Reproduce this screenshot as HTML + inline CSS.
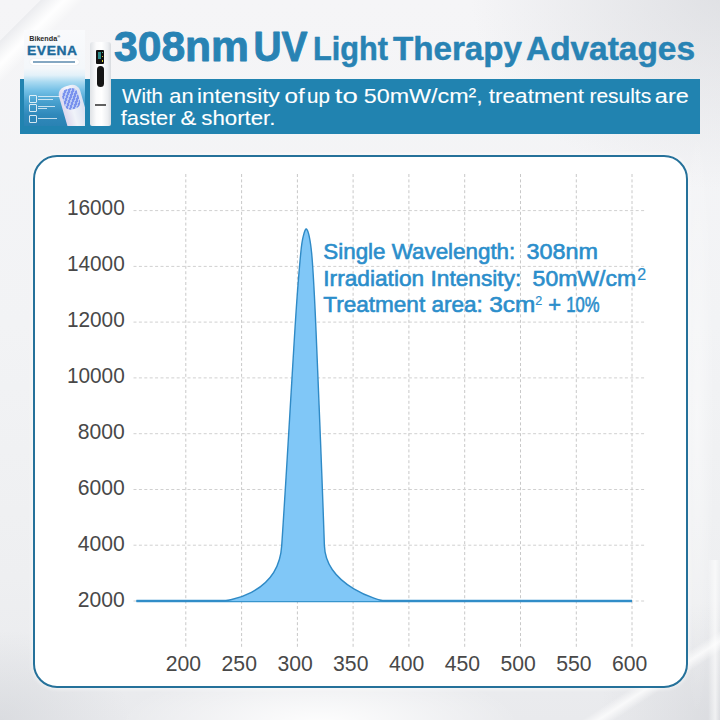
<!DOCTYPE html>
<html><head><meta charset="utf-8">
<style>
html,body{margin:0;padding:0;}
body{width:720px;height:720px;overflow:hidden;position:relative;font-family:"Liberation Sans",sans-serif;
background:radial-gradient(ellipse 200px 60px at 320px 725px,rgba(255,255,255,.95),rgba(255,255,255,0)),radial-gradient(ellipse 260px 200px at 730px -10px,rgba(205,207,212,.55),rgba(205,207,212,0)),radial-gradient(ellipse 120px 120px at 720px 720px,rgba(200,202,207,.45),rgba(200,202,207,0)),radial-gradient(ellipse 130px 90px at 0px 720px,rgba(200,203,208,.45),rgba(200,203,208,0)),linear-gradient(180deg,#f5f5f7 0%,#f2f3f5 45%,#eeeff1 80%,#e9eaed 100%);}
.abs{position:absolute;white-space:nowrap;}
.st{position:absolute;}
#shine1{left:-45px;top:12px;width:160px;height:30px;transform:rotate(-45deg);background:linear-gradient(180deg,rgba(225,227,231,.5),rgba(255,255,255,.95) 55%,rgba(255,255,255,0));}
#banner{left:20px;top:79px;width:680px;height:54.5px;background:#2183b0;}
#card{left:33.2px;top:154.8px;width:651px;height:529.5px;border:2.2px solid #25719a;border-radius:24px;background:#fff;box-shadow:0 0 4px 1px rgba(255,255,255,.6);}
#box{left:24px;top:29.5px;width:60.6px;height:96.8px;overflow:hidden;background:linear-gradient(180deg,#f9fafc 0%,#f4f7fa 40%,#e3f1f9 47%,#aadaf1 54%,#74c0e6 63%,#4aa2d0 74%,#3089bb 88%,#2a82b3 100%);}
#bk{left:5.2px;top:5.3px;font-size:7.2px;font-weight:bold;color:#2a2a2a;line-height:8px;}
#bk sup{font-size:4px;vertical-align:top;line-height:4px;}
#ev{left:3.2px;top:15.5px;font-size:12.4px;font-weight:bold;color:#1d6b9c;letter-spacing:0.5px;line-height:12px;transform-origin:0 0;transform:scaleX(1.12);-webkit-text-stroke:0.35px #1d6b9c;}
#pill{left:5.5px;top:29px;width:49.5px;height:6px;border-radius:3px;background:#fff;box-shadow:0 0 1px rgba(0,0,0,.15);}
#pill span{position:absolute;left:3.5px;top:2px;width:42px;height:2px;background:#1f5f8f;opacity:.55;}
#head{left:38.5px;top:55px;width:22px;height:48px;transform:rotate(-16deg);border-radius:8px 8px 3px 3px;background:linear-gradient(90deg,#e6dcf0,#fbf9fd 45%,#e2e4f3);opacity:.95;}
#glow{position:absolute;left:2.5px;top:2.5px;width:16px;height:21px;border-radius:6px;background:repeating-linear-gradient(125deg,#6f86ee 0 2px,#b9c6f7 2px 3.5px);opacity:.9;}
.ic{left:5px;width:6px;height:6px;border:1px solid rgba(255,255,255,.8);border-radius:1px;}
.ln{left:14px;height:1px;background:rgba(255,255,255,.7);}
#dev{left:90px;top:41.8px;width:20.6px;height:84.4px;border-radius:3px 3px 2px 2px;background:linear-gradient(90deg,#dfe2e6,#fbfbfc 30%,#ffffff 55%,#eceef1 85%,#d8dbdf);}
#scr{left:6px;top:8.4px;width:8.4px;height:13.8px;background:#111;border-radius:1px;}
#scr i{position:absolute;width:2px;height:2px;}
#btn{left:6.8px;top:24.3px;width:7px;height:20.5px;background:#151515;border-radius:3.5px;}
#lbl{left:5px;top:62px;width:11px;height:2px;background:#3a3a3a;opacity:.8;}
svg{position:absolute;left:0;top:0;}

</style></head><body>
<div class="abs" id="shine1"></div>
<div class="st" style="left:500px;top:684px;width:280px;height:18px;transform:rotate(-33deg);background:linear-gradient(180deg,rgba(255,255,255,0),rgba(255,255,255,.75) 50%,rgba(255,255,255,0));"></div>
<div class="st" style="left:708px;top:560px;width:12px;height:160px;background:linear-gradient(90deg,rgba(255,255,255,0),rgba(255,255,255,.6) 60%,rgba(255,255,255,0));"></div>
<div class="st" style="left:680px;top:120px;width:34px;height:600px;background:radial-gradient(ellipse 50% 50% at 50% 50%,rgba(255,255,255,.45),rgba(255,255,255,0));"></div>
<div class="abs" id="banner"></div>
<div class="abs" id="box">
  <div class="abs" id="bk">Bikenda<sup>®</sup></div>
  <div class="abs" id="ev">EVENA</div>
  <div class="abs" id="pill"><span></span></div>
  <div class="abs" id="head"><div id="glow"></div></div>
  <div class="abs ic" style="top:65px"></div>
  <div class="abs ic" style="top:74.5px"></div>
  <div class="abs ic" style="top:85px"></div>
  <div class="abs ln" style="top:66.5px;width:22px"></div>
  <div class="abs ln" style="top:69px;width:15px"></div>
  <div class="abs ln" style="top:76px;width:17px"></div>
  <div class="abs ln" style="top:78.5px;width:9px"></div>
  <div class="abs ln" style="top:88px;width:19px"></div>
</div>
<div class="abs" id="dev">
  <div class="abs" id="scr"><i style="left:1.5px;top:2px;width:3px;height:7px;background:#2a8a8a"></i><i style="left:5.5px;top:2px;width:1.2px;height:1.2px;background:#50c0a0"></i><i style="left:5.5px;top:6px;width:1.2px;height:1.2px;background:#c8c040"></i><i style="left:5.5px;top:10px;width:1.5px;height:1.5px;background:#d8d030"></i></div>
  <div class="abs" id="btn"></div>
  <div class="abs" id="lbl"></div>
</div>
<div class="abs" id="card"></div>

<svg width="720" height="720" viewBox="0 0 720 720">
<g stroke-width="1" stroke-dasharray="3 2.4" fill="none">
<line x1="185.8" y1="174" x2="185.8" y2="647" stroke="#c8c8c8"/>
<line x1="241.6" y1="174" x2="241.6" y2="647" stroke="#c8c8c8"/>
<line x1="297.4" y1="174" x2="297.4" y2="647" stroke="#c8c8c8"/>
<line x1="353.1" y1="174" x2="353.1" y2="647" stroke="#c8c8c8"/>
<line x1="408.9" y1="174" x2="408.9" y2="647" stroke="#c8c8c8"/>
<line x1="464.7" y1="174" x2="464.7" y2="647" stroke="#c8c8c8"/>
<line x1="520.5" y1="174" x2="520.5" y2="647" stroke="#c8c8c8"/>
<line x1="576.3" y1="174" x2="576.3" y2="647" stroke="#c8c8c8"/>
<line x1="632.0" y1="174" x2="632.0" y2="647" stroke="#c8c8c8"/>
<line x1="133.5" y1="210.6" x2="646" y2="210.6" stroke="#d0d0d0"/>
<line x1="133.5" y1="266.4" x2="646" y2="266.4" stroke="#d0d0d0"/>
<line x1="133.5" y1="322.1" x2="646" y2="322.1" stroke="#d0d0d0"/>
<line x1="133.5" y1="377.9" x2="646" y2="377.9" stroke="#d0d0d0"/>
<line x1="133.5" y1="433.7" x2="646" y2="433.7" stroke="#d0d0d0"/>
<line x1="133.5" y1="489.5" x2="646" y2="489.5" stroke="#d0d0d0"/>
<line x1="133.5" y1="545.2" x2="646" y2="545.2" stroke="#d0d0d0"/>
<line x1="133.5" y1="601.0" x2="646" y2="601.0" stroke="#d0d0d0"/>
</g>
<line x1="136.4" y1="601" x2="632" y2="601" stroke="#3895cd" stroke-width="2.4"/>
<path d="M136.4,601 L222,601 C223.94,601 278.66,596.3 281.7,545.6 L281.85,543.45 L281.99,541.33 L282.13,539.20 L282.27,537.08 L282.41,534.96 L282.55,532.83 L282.69,530.70 L282.82,528.58 L282.96,526.45 L283.10,524.33 L283.24,522.20 L283.37,520.07 L283.51,517.95 L283.64,515.82 L283.78,513.69 L283.91,511.56 L284.05,509.43 L284.18,507.31 L284.32,505.18 L284.45,503.05 L284.59,500.92 L284.72,498.79 L284.85,496.66 L284.99,494.53 L285.12,492.40 L285.25,490.27 L285.38,488.14 L285.51,486.01 L285.65,483.88 L285.78,481.75 L285.91,479.62 L286.04,477.49 L286.17,475.36 L286.30,473.23 L286.43,471.10 L286.56,468.97 L286.69,466.83 L286.82,464.70 L286.95,462.57 L287.08,460.44 L287.21,458.31 L287.33,456.18 L287.46,454.05 L287.59,451.91 L287.72,449.78 L287.85,447.65 L287.98,445.52 L288.10,443.39 L288.23,441.25 L288.36,439.12 L288.49,436.99 L288.62,434.86 L288.74,432.73 L288.87,430.60 L289.00,428.46 L289.12,426.33 L289.25,424.20 L289.38,422.07 L289.51,419.94 L289.63,417.81 L289.76,415.68 L289.89,413.54 L290.01,411.41 L290.14,409.28 L290.27,407.15 L290.39,405.02 L290.52,402.89 L290.65,400.76 L290.77,398.63 L290.90,396.50 L291.03,394.37 L291.15,392.24 L291.28,390.11 L291.41,387.98 L291.53,385.85 L291.66,383.72 L291.79,381.59 L291.91,379.46 L292.04,377.34 L292.17,375.21 L292.29,373.08 L292.42,370.95 L292.55,368.82 L292.67,366.70 L292.80,364.57 L292.93,362.44 L293.06,360.31 L293.18,358.19 L293.31,356.06 L293.44,353.94 L293.57,351.81 L293.70,349.69 L293.82,347.56 L293.95,345.44 L294.08,343.31 L294.21,341.19 L294.34,339.06 L294.47,336.94 L294.60,334.82 L294.73,332.69 L294.86,330.57 L295.00,328.44 L295.13,326.32 L295.26,324.20 L295.40,322.07 L295.54,319.95 L295.67,317.82 L295.81,315.70 L295.95,313.57 L296.09,311.45 L296.24,309.32 L296.38,307.19 L296.53,305.07 L296.68,302.94 L296.82,300.81 L296.98,298.69 L297.13,296.56 L297.28,294.43 L297.44,292.30 L297.60,290.17 L297.76,288.04 L297.92,285.90 L298.09,283.77 L298.26,281.64 L298.43,279.50 L298.60,277.37 L298.78,275.23 L298.96,273.09 L299.14,270.95 L299.32,268.81 L299.51,266.67 L299.70,264.53 L299.89,262.39 L300.08,260.25 L300.28,258.10 L300.48,255.95 L300.69,253.81 L300.90,251.66 L301.12,249.51 L301.36,247.37 L301.63,245.24 L301.93,243.12 L302.27,241.01 L302.66,238.93 L303.11,236.86 L303.62,234.83 L304.21,232.82 L304.88,230.85 L305.62,229.26 L306.44,228.95 L307.27,230.06 L308.01,231.85 L308.64,233.90 L309.16,236.12 L309.61,238.41 L310.01,240.69 L310.37,242.95 L310.70,245.17 L310.99,247.37 L311.25,249.55 L311.49,251.71 L311.71,253.85 L311.90,255.97 L312.08,258.09 L312.24,260.19 L312.40,262.30 L312.54,264.39 L312.68,266.49 L312.82,268.59 L312.95,270.70 L313.09,272.80 L313.22,274.91 L313.35,277.02 L313.47,279.13 L313.60,281.24 L313.72,283.36 L313.84,285.48 L313.96,287.59 L314.07,289.71 L314.19,291.84 L314.30,293.96 L314.41,296.08 L314.52,298.21 L314.62,300.34 L314.73,302.47 L314.83,304.59 L314.94,306.73 L315.04,308.86 L315.14,310.99 L315.24,313.12 L315.34,315.26 L315.43,317.39 L315.53,319.53 L315.62,321.66 L315.72,323.80 L315.81,325.94 L315.90,328.08 L315.99,330.21 L316.09,332.35 L316.18,334.49 L316.27,336.63 L316.36,338.77 L316.44,340.91 L316.53,343.05 L316.62,345.18 L316.71,347.32 L316.80,349.46 L316.89,351.60 L316.98,353.73 L317.06,355.87 L317.15,358.01 L317.24,360.14 L317.33,362.28 L317.42,364.41 L317.50,366.55 L317.59,368.68 L317.68,370.82 L317.77,372.95 L317.85,375.09 L317.94,377.22 L318.03,379.35 L318.12,381.49 L318.20,383.62 L318.29,385.75 L318.38,387.89 L318.46,390.02 L318.55,392.15 L318.64,394.28 L318.72,396.41 L318.81,398.54 L318.90,400.68 L318.98,402.81 L319.07,404.94 L319.16,407.07 L319.24,409.20 L319.33,411.33 L319.41,413.46 L319.50,415.59 L319.58,417.72 L319.67,419.85 L319.76,421.98 L319.84,424.11 L319.93,426.24 L320.01,428.37 L320.10,430.50 L320.18,432.63 L320.26,434.76 L320.35,436.89 L320.43,439.02 L320.52,441.15 L320.60,443.27 L320.68,445.40 L320.77,447.53 L320.85,449.66 L320.93,451.79 L321.02,453.92 L321.10,456.05 L321.18,458.18 L321.26,460.31 L321.35,462.44 L321.43,464.57 L321.51,466.70 L321.59,468.83 L321.67,470.96 L321.76,473.09 L321.84,475.22 L321.92,477.35 L322.00,479.48 L322.08,481.61 L322.16,483.74 L322.24,485.87 L322.32,488.00 L322.40,490.13 L322.48,492.26 L322.56,494.40 L322.64,496.53 L322.72,498.66 L322.79,500.79 L322.87,502.92 L322.95,505.06 L323.03,507.19 L323.11,509.32 L323.18,511.46 L323.26,513.59 L323.34,515.72 L323.41,517.86 L323.49,519.99 L323.57,522.13 L323.64,524.26 L323.72,526.40 L323.79,528.53 L323.87,530.67 L323.94,532.80 L324.02,534.94 L324.09,537.08 L324.17,539.21 L324.24,541.35 L324.31,543.49 L324.4,545.6 C325.85,587.1 381.7,601 384,601 L632,601" fill="#80c7f7" stroke="#2f8ac6" stroke-width="1.4" stroke-linejoin="round"/>
<g font-family="Liberation Sans" font-weight="bold" fill="#2883b4" stroke="#2883b4" stroke-width="0.9" stroke-linejoin="round">
<text x="114" y="60.5" font-size="42" textLength="135" lengthAdjust="spacingAndGlyphs">308nm</text>
<text x="253.5" y="60.5" font-size="42" textLength="54" lengthAdjust="spacingAndGlyphs">UV</text>
<text x="313" y="60.2" font-size="33" stroke-width="0.5" textLength="75" lengthAdjust="spacingAndGlyphs">Light</text>
<text x="393" y="60.2" font-size="33" stroke-width="0.5" textLength="129" lengthAdjust="spacingAndGlyphs">Therapy</text>
<text x="526" y="60.2" font-size="33" stroke-width="0.5" textLength="169" lengthAdjust="spacingAndGlyphs">Advatages</text>
</g>
<g font-family="Liberation Sans" font-size="21" fill="#fff" stroke="#fff" stroke-width="0.1">
<text x="122.1" y="103.2" textLength="40.9" lengthAdjust="spacingAndGlyphs">With</text>
<text x="169.3" y="103.2" textLength="24.3" lengthAdjust="spacingAndGlyphs">an</text>
<text x="197.1" y="103.2" textLength="82.6" lengthAdjust="spacingAndGlyphs">intensity</text>
<text x="284.6" y="103.2" textLength="20.2" lengthAdjust="spacingAndGlyphs">of</text>
<text x="307.1" y="103.2" textLength="22.9" lengthAdjust="spacingAndGlyphs">up</text>
<text x="334.8" y="103.2" textLength="23.0" lengthAdjust="spacingAndGlyphs">to</text>
<text x="363.8" y="103.2" textLength="119.0" lengthAdjust="spacingAndGlyphs">50mW/cm²,</text>
<text x="488.8" y="103.2" textLength="95.3" lengthAdjust="spacingAndGlyphs">treatment</text>
<text x="589.4" y="103.2" textLength="61.8" lengthAdjust="spacingAndGlyphs">results</text>
<text x="654.8" y="103.2" textLength="34.0" lengthAdjust="spacingAndGlyphs">are</text>
<text x="120.8" y="125" textLength="54.7" lengthAdjust="spacingAndGlyphs">faster</text>
<text x="180.5" y="125" textLength="15.8" lengthAdjust="spacingAndGlyphs">&amp;</text>
<text x="201.3" y="125" textLength="74.2" lengthAdjust="spacingAndGlyphs">shorter.</text>
</g>
<g font-family="Liberation Sans" font-size="22.4" fill="#484848">
<text x="66.9" y="214.9" textLength="57.8" lengthAdjust="spacingAndGlyphs">16000</text>
<text x="66.9" y="270.9" textLength="57.8" lengthAdjust="spacingAndGlyphs">14000</text>
<text x="66.9" y="327.0" textLength="57.8" lengthAdjust="spacingAndGlyphs">12000</text>
<text x="66.9" y="383.0" textLength="57.8" lengthAdjust="spacingAndGlyphs">10000</text>
<text x="77.7" y="439.0" textLength="47.0" lengthAdjust="spacingAndGlyphs">8000</text>
<text x="77.7" y="495.0" textLength="47.0" lengthAdjust="spacingAndGlyphs">6000</text>
<text x="77.7" y="551.1" textLength="47.0" lengthAdjust="spacingAndGlyphs">4000</text>
<text x="77.7" y="607.1" textLength="47.0" lengthAdjust="spacingAndGlyphs">2000</text>
<text x="165.8" y="670.8" textLength="35.3" lengthAdjust="spacingAndGlyphs">200</text>
<text x="221.6" y="670.8" textLength="35.3" lengthAdjust="spacingAndGlyphs">250</text>
<text x="277.4" y="670.8" textLength="35.3" lengthAdjust="spacingAndGlyphs">300</text>
<text x="333.1" y="670.8" textLength="35.3" lengthAdjust="spacingAndGlyphs">350</text>
<text x="388.9" y="670.8" textLength="35.3" lengthAdjust="spacingAndGlyphs">400</text>
<text x="444.7" y="670.8" textLength="35.3" lengthAdjust="spacingAndGlyphs">450</text>
<text x="500.5" y="670.8" textLength="35.3" lengthAdjust="spacingAndGlyphs">500</text>
<text x="556.3" y="670.8" textLength="35.3" lengthAdjust="spacingAndGlyphs">550</text>
<text x="612.0" y="670.8" textLength="35.3" lengthAdjust="spacingAndGlyphs">600</text>
</g>
<g font-family="Liberation Sans" font-size="21.9" fill="#2b8ecb" stroke="#2b8ecb" stroke-width="0.6">
<text x="323.3" y="259.1" textLength="192" lengthAdjust="spacingAndGlyphs">Single Wavelength:</text>
<text x="526.6" y="259.1" textLength="71.5" lengthAdjust="spacingAndGlyphs">308nm</text>
<text x="323.3" y="285.7" textLength="198" lengthAdjust="spacingAndGlyphs">Irradiation Intensity:</text>
<text x="532.6" y="285.7" textLength="103.5" lengthAdjust="spacingAndGlyphs">50mW/cm</text>
<text x="637.3" y="280" font-size="16" stroke-width="0.2">2</text>
<text x="323.3" y="312.1" textLength="159.5" lengthAdjust="spacingAndGlyphs">Treatment area:</text>
<text x="489.3" y="312.1" textLength="46" lengthAdjust="spacingAndGlyphs">3cm</text>
<text x="535.3" y="305.3" font-size="12.5" stroke-width="0.2">2</text>
<text x="548.3" y="312.1">+</text>
<text transform="translate(566.3 311.6) scale(0.76 1)">10%</text>
</g>
</svg>
</body></html>
